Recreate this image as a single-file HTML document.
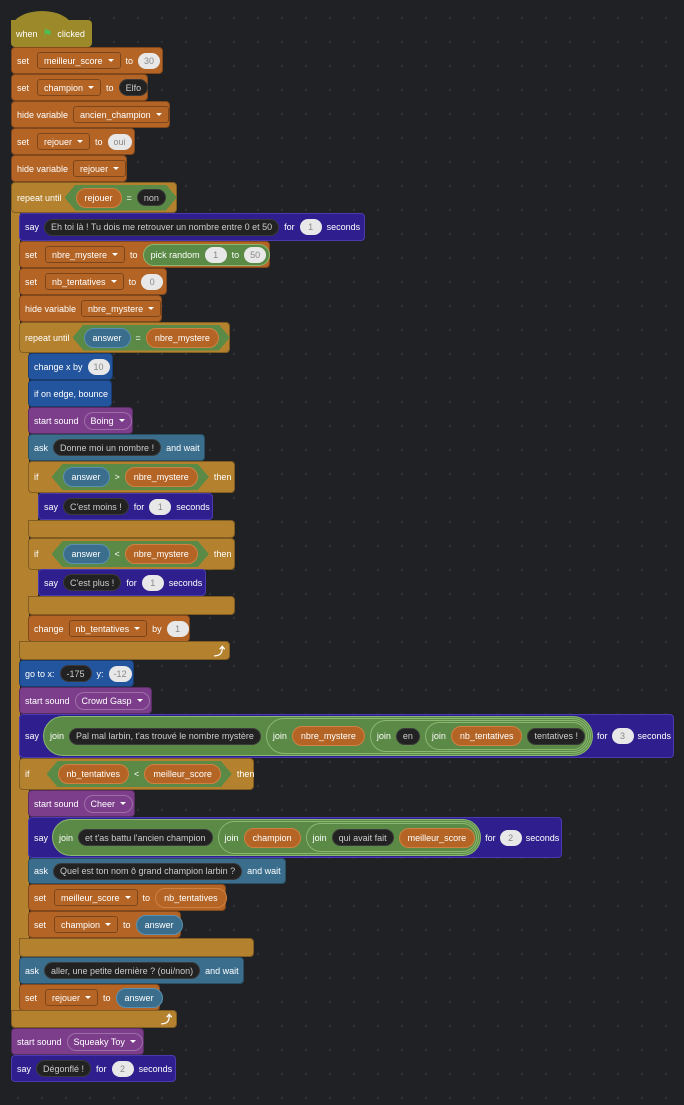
<!DOCTYPE html>
<html><head><meta charset="utf-8"><style>
body{margin:0;width:684px;height:1105px;overflow:hidden;background-color:#1f2124;background-image:radial-gradient(#34373b 0.8px,transparent 1px);background-size:24px 24px;background-position:6px 6px;position:relative;font-family:"Liberation Sans",sans-serif}
.b{position:absolute;display:flex;align-items:center;gap:5px;padding-left:5px;box-sizing:border-box;border-radius:4px;color:#fff;font-size:9px;white-space:nowrap;border:1px solid rgba(0,0,0,.28)}
.arm{position:absolute;box-sizing:border-box}
.ctl{background:#b4822e}.var{background:#b46526}.snd{background:#7c3e8b}.lk{background:#2f1f8e;border-color:#4a3ab0}
.sen{background:#3b6e8d}.mot{background:#23559e}.ev{background:#9c8a2a}
.dd{border:1px solid rgba(0,0,0,.3);border-radius:3px;padding:0 6px;height:17px;display:flex;align-items:center;gap:5px;box-sizing:border-box}
.dd:after{content:"";border:3px solid transparent;border-top:3.5px solid #fff;margin-top:3px}
.sdd{border:1px solid rgba(255,255,255,.25);border-radius:9px;padding:0 6px;height:18px;display:flex;align-items:center;gap:5px;box-sizing:border-box;background:#7c3e8b}
.sdd:after{content:"";border:3px solid transparent;border-top:3.5px solid #fff;margin-top:3px}
.num{background:#e8e8e8;color:#888;border-radius:9px;height:16px;min-width:22px;padding:0 5px;box-sizing:border-box;display:flex;align-items:center;justify-content:center}
.str{background:#222;color:#ccc;border-radius:9px;height:17px;padding:0 6px;display:flex;align-items:center;border:1px solid #3a3a3a;box-sizing:border-box}
.rv{background:#b46526;border:1px solid #d08040;border-radius:10px;height:20px;padding:0 8px;display:flex;align-items:center;box-sizing:border-box}
.ans{background:#3b6e8d;border:1px solid #5a90b0;border-radius:10px;height:20px;padding:0 8px;display:flex;align-items:center;box-sizing:border-box}
.bool{background:#5a8a45;clip-path:polygon(0 50%,11px 0,calc(100% - 11px) 0,100% 50%,calc(100% - 11px) 100%,11px 100%);height:26px;padding:0 11px;display:flex;align-items:center;gap:5px}
.join{background:#5a8a45;border:1px solid #8ab870;border-radius:20px;padding:0 1px 0 6px;display:flex;align-items:center;gap:5px;box-sizing:border-box}
.pr{background:#5a8a45;border:1px solid #8ab870;border-radius:11px;height:22px;padding:0 3px 0 7px;display:flex;align-items:center;gap:5px;box-sizing:border-box}
.arr{position:absolute;color:#fff;font-size:11px;font-weight:bold}
</style></head><body>

<div style="position:absolute;left:11px;top:11px;width:62px;height:26px;border-radius:50% 50% 0 0/70% 70% 0 0;background:#9c8a2a"></div>
<div class="b ev" style="left:11px;top:20px;width:81px;height:27px;border-radius:0 4px 4px 4px;border:none">when <span style="color:#4cbf56;font-size:11px">&#9873;</span> clicked</div>

<div class="b var" style="left:11px;top:47px;width:152px;height:27px">set <span class="dd" style="margin-left:3px">meilleur_score</span> to <span class="num">30</span></div>
<div class="b var" style="left:11px;top:74px;width:137px;height:27px">set <span class="dd" style="margin-left:3px">champion</span> to <span class="str">Elfo</span></div>
<div class="b var" style="left:11px;top:101px;width:159px;height:27px">hide variable <span class="dd">ancien_champion</span></div>
<div class="b var" style="left:11px;top:128px;width:124px;height:27px">set <span class="dd" style="margin-left:3px">rejouer</span> to <span class="num" style="min-width:24px">oui</span></div>
<div class="b var" style="left:11px;top:155px;width:116px;height:27px">hide variable <span class="dd">rejouer</span></div>

<div class="arm ctl" style="left:11px;top:205px;width:9px;height:810px"></div>
<div class="b ctl" style="left:11px;top:182px;width:166px;height:31px;gap:3px">repeat until <span class="bool"><span class="rv">rejouer</span>=<span class="str">non</span></span></div>

<div class="b lk" style="left:19px;top:213px;width:346px;height:28px">say <span class="str">Eh toi là ! Tu dois me retrouver un nombre entre 0 et 50</span> for <span class="num">1</span> seconds</div>
<div class="b var" style="left:19px;top:241px;width:251px;height:27px">set <span class="dd" style="margin-left:3px">nbre_mystere</span> to <span class="pr">pick random <span class="num">1</span> to <span class="num">50</span></span></div>
<div class="b var" style="left:19px;top:268px;width:148px;height:27px">set <span class="dd" style="margin-left:3px">nb_tentatives</span> to <span class="num">0</span></div>
<div class="b var" style="left:19px;top:295px;width:143px;height:27px">hide variable <span class="dd">nbre_mystere</span></div>

<div class="arm ctl" style="left:19px;top:345px;width:10px;height:300px"></div>
<div class="b ctl" style="left:19px;top:322px;width:211px;height:31px;gap:3px">repeat until <span class="bool"><span class="ans">answer</span>=<span class="rv">nbre_mystere</span></span></div>
<div class="b mot" style="left:28px;top:353px;width:85px;height:27px">change x by <span class="num">10</span></div>
<div class="b mot" style="left:28px;top:380px;width:84px;height:27px">if on edge, bounce</div>
<div class="b snd" style="left:28px;top:407px;width:105px;height:27px">start sound <span class="sdd">Boing</span></div>
<div class="b sen" style="left:28px;top:434px;width:177px;height:27px">ask <span class="str">Donne moi un nombre !</span> and wait</div>

<div class="arm ctl" style="left:28px;top:485px;width:10px;height:40px"></div>
<div class="b ctl" style="left:28px;top:461px;width:207px;height:32px">if <span class="bool" style="margin-left:8px"><span class="ans">answer</span>&gt;<span class="rv">nbre_mystere</span></span> then</div>
<div class="b lk" style="left:38px;top:493px;width:175px;height:27px">say <span class="str">C'est moins !</span> for <span class="num">1</span> seconds</div>
<div class="b ctl" style="left:28px;top:520px;width:207px;height:18px;border-radius:0 4px 4px 4px"></div>

<div class="arm ctl" style="left:28px;top:562px;width:10px;height:40px"></div>
<div class="b ctl" style="left:28px;top:538px;width:207px;height:32px">if <span class="bool" style="margin-left:8px"><span class="ans">answer</span>&lt;<span class="rv">nbre_mystere</span></span> then</div>
<div class="b lk" style="left:38px;top:569px;width:168px;height:27px">say <span class="str">C'est plus !</span> for <span class="num">1</span> seconds</div>
<div class="b ctl" style="left:28px;top:596px;width:207px;height:19px;border-radius:0 4px 4px 4px"></div>

<div class="b var" style="left:28px;top:615px;width:162px;height:27px">change <span class="dd">nb_tentatives</span> by <span class="num">1</span></div>
<div class="b ctl" style="left:19px;top:641px;width:211px;height:19px;border-radius:0 4px 4px 4px"></div>
<div class="arr" style="left:214px;top:643px">&#10548;</div>

<div class="b mot" style="left:19px;top:660px;width:115px;height:27px">go to x: <span class="str">-175</span> y: <span class="num">-12</span></div>
<div class="b snd" style="left:19px;top:687px;width:133px;height:27px">start sound <span class="sdd">Crowd Gasp</span></div>
<div class="b lk" style="left:19px;top:714px;width:655px;height:44px;gap:4px">say
 <span class="join" style="height:40px">join <span class="str">Pal mal larbin, t'as trouvé le nombre mystère</span>
  <span class="join" style="height:36px">join <span class="rv">nbre_mystere</span>
   <span class="join" style="height:32px">join <span class="str">en</span>
    <span class="join" style="height:28px">join <span class="rv">nb_tentatives</span> <span class="str">tentatives !</span></span></span></span></span>
 for <span class="num">3</span> seconds</div>

<div class="arm ctl" style="left:19px;top:782px;width:10px;height:165px"></div>
<div class="b ctl" style="left:19px;top:758px;width:235px;height:32px">if <span class="bool" style="margin-left:12px"><span class="rv">nb_tentatives</span>&lt;<span class="rv">meilleur_score</span></span> then</div>
<div class="b snd" style="left:28px;top:790px;width:107px;height:27px">start sound <span class="sdd">Cheer</span></div>
<div class="b lk" style="left:28px;top:817px;width:534px;height:41px;gap:4px">say
 <span class="join" style="height:37px">join <span class="str">et t'as battu l'ancien champion</span>
  <span class="join" style="height:33px">join <span class="rv">champion</span>
   <span class="join" style="height:29px">join <span class="str">qui avait fait</span> <span class="rv">meilleur_score</span></span></span></span>
 for <span class="num">2</span> seconds</div>
<div class="b sen" style="left:28px;top:858px;width:258px;height:26px">ask <span class="str">Quel est ton nom ô grand champion larbin ?</span> and wait</div>
<div class="b var" style="left:28px;top:884px;width:198px;height:27px">set <span class="dd" style="margin-left:3px">meilleur_score</span> to <span class="rv">nb_tentatives</span></div>
<div class="b var" style="left:28px;top:911px;width:153px;height:27px">set <span class="dd" style="margin-left:3px">champion</span> to <span class="ans">answer</span></div>
<div class="b ctl" style="left:19px;top:938px;width:235px;height:19px;border-radius:0 4px 4px 4px"></div>

<div class="b sen" style="left:19px;top:957px;width:225px;height:27px">ask <span class="str">aller, une petite dernière ? (oui/non)</span> and wait</div>
<div class="b var" style="left:19px;top:984px;width:141px;height:27px">set <span class="dd" style="margin-left:3px">rejouer</span> to <span class="ans">answer</span></div>
<div class="b ctl" style="left:11px;top:1010px;width:166px;height:18px;border-radius:0 4px 4px 4px"></div>
<div class="arr" style="left:161px;top:1011px">&#10548;</div>

<div class="b snd" style="left:11px;top:1028px;width:133px;height:27px">start sound <span class="sdd">Squeaky Toy</span></div>
<div class="b lk" style="left:11px;top:1055px;width:165px;height:27px">say <span class="str">Dégonflé !</span> for <span class="num">2</span> seconds</div>

</body></html>
